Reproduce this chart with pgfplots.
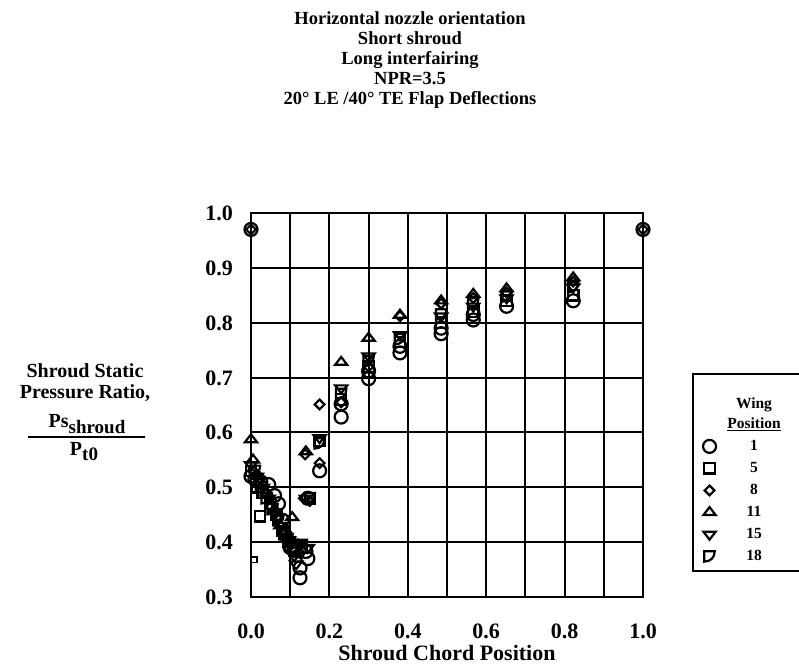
\documentclass[border=0pt]{standalone}
\usepackage{pgfplots}
\pgfplotsset{compat=1.18}
\usepackage{fontspec}
\setmainfont{Liberation Serif}
\usetikzlibrary{plotmarks}

\pgfdeclareplotmark{dshape}{%
  \pgfpathmoveto{\pgfqpoint{-\pgfplotmarksize}{\pgfplotmarksize}}%
  \pgfpathlineto{\pgfqpoint{\pgfplotmarksize}{\pgfplotmarksize}}%
  \pgfpathcurveto{\pgfqpoint{\pgfplotmarksize}{-0.2\pgfplotmarksize}}{\pgfqpoint{0.2\pgfplotmarksize}{-\pgfplotmarksize}}{\pgfqpoint{-\pgfplotmarksize}{-\pgfplotmarksize}}%
  \pgfpathclose
  \pgfusepathqstroke
}

\pgfplotstableread{
x y
0.0 0.970
1.0 0.970
0.0 0.520
0.010 0.515
0.025 0.510
0.045 0.505
0.060 0.485
0.070 0.470
0.080 0.440
0.090 0.410
0.100 0.390
0.110 0.385
0.125 0.335
0.125 0.353
0.145 0.370
0.140 0.383
0.145 0.480
0.175 0.530
0.230 0.628
0.230 0.652
0.300 0.698
0.300 0.712
0.380 0.745
0.380 0.757
0.485 0.780
0.485 0.790
0.567 0.805
0.567 0.815
0.652 0.830
0.822 0.840
}\wingA

\pgfplotstableread{
x y
0.023 0.447
0.000 0.530
0.015 0.500
0.030 0.490
0.050 0.470
0.065 0.450
0.080 0.420
0.095 0.400
0.110 0.385
0.130 0.390
0.150 0.480
0.175 0.585
0.230 0.660
0.300 0.720
0.380 0.765
0.485 0.800
0.567 0.820
0.652 0.840
0.822 0.850
}\wingB

\pgfplotstableread{
x y
0.0 0.970
1.0 0.970
0.005 0.530
0.020 0.510
0.035 0.490
0.050 0.465
0.065 0.445
0.080 0.420
0.095 0.390
0.110 0.375
0.125 0.380
0.135 0.480
0.150 0.475
0.138 0.560
0.175 0.651
0.175 0.544
0.230 0.655
0.300 0.720
0.380 0.812
0.485 0.835
0.567 0.845
0.652 0.855
0.822 0.875
}\wingC

\pgfplotstableread{
x y
0.000 0.587
0.005 0.550
0.020 0.520
0.040 0.490
0.060 0.460
0.075 0.430
0.090 0.410
0.105 0.445
0.120 0.395
0.140 0.565
0.230 0.728
0.300 0.772
0.380 0.814
0.485 0.840
0.567 0.852
0.652 0.862
0.822 0.882
}\wingD

\pgfplotstableread{
x y
0.000 0.541
0.015 0.520
0.030 0.500
0.045 0.480
0.060 0.455
0.075 0.430
0.090 0.410
0.100 0.395
0.115 0.360
0.145 0.390
0.140 0.480
0.175 0.590
0.230 0.681
0.300 0.739
0.380 0.778
0.485 0.812
0.567 0.830
0.652 0.845
0.822 0.865
}\wingE

\pgfplotstableread{
x y
0.010 0.530
0.025 0.500
0.040 0.480
0.055 0.460
0.070 0.440
0.085 0.415
0.100 0.400
0.115 0.390
0.130 0.395
0.150 0.480
0.175 0.580
0.230 0.670
0.300 0.730
0.380 0.770
0.485 0.815
0.567 0.835
0.652 0.848
0.822 0.865
}\wingF

\begin{document}
\bfseries
\begin{tikzpicture}
\useasboundingbox (0pt,0pt) rectangle (799pt,665pt);
\begin{axis}[
  at={(251pt,68pt)}, anchor=south west,
  width=392pt, height=384pt, scale only axis,
  xmin=0, xmax=1, ymin=0.3, ymax=1.0,
  xtick={0,0.2,0.4,0.6,0.8,1.0},
  minor xtick={0.1,0.3,0.5,0.7,0.9},
  ytick={0.3,0.4,0.5,0.6,0.7,0.8,0.9,1.0},
  grid=both,
  major grid style={black, line width=2pt},
  minor grid style={black, line width=2pt},
  axis line style={line width=2.2pt},
  major tick length=0pt, minor tick length=0pt,
  clip=false,
  xticklabel={\pgfmathprintnumber[fixed,fixed zerofill,precision=1,assume math mode=true]{\tick}},
  yticklabel={\pgfmathprintnumber[fixed,fixed zerofill,precision=1,assume math mode=true]{\tick}},
  xticklabel style={font=\fontsize{22}{22}\selectfont\bfseries, anchor=center, inner sep=0pt, text height=15pt, text depth=0pt, yshift=-34pt},
  yticklabel style={font=\fontsize{22}{22}\selectfont\bfseries, anchor=east, inner sep=0pt, text height=15pt, text depth=0pt, xshift=-18pt},
  xlabel={Shroud Chord Position},
  xlabel style={font=\fontsize{22}{22}\selectfont\bfseries, at={(axis description cs:0.5,-0.146)}, anchor=center, inner sep=0pt},
  every axis plot/.append style={only marks, black, line width=2.2pt, mark size=6.5pt},
  legend style={at={(axis description cs:1.125,0.583)}, anchor=north west, draw=black, line width=2pt,
    font=\fontsize{15.5}{15.5}\selectfont\bfseries, row sep=1.5pt, inner xsep=8pt, inner ysep=4pt,
    nodes={text height=11.5pt, text depth=3pt, inner sep=3pt}},
  legend cell align={center},
]
\addlegendimage{empty legend}\addlegendentry[text height=27pt]{\makebox[70pt][c]{Wing}}
\addlegendimage{empty legend}\addlegendentry[text height=10pt]{\makebox[70pt][c]{\underline{Position}}}
\addplot[mark=o, mark size=6.5pt] table {\wingA};
\addlegendentry{\makebox[70pt][c]{1}}
\addplot[mark=square, mark size=5.2pt] table {\wingB};
\addlegendentry{\makebox[70pt][c]{5}}
\addplot[mark=diamond, mark size=6.5pt, mark options={yscale=0.75}] table {\wingC};
\addlegendentry{\makebox[70pt][c]{8}}
\addplot[mark=triangle, mark size=7pt, mark options={yscale=0.75}] table {\wingD};
\addlegendentry{\makebox[70pt][c]{11}}
\addplot[mark=triangle, mark size=7pt, mark options={rotate=180, yscale=0.75}] table {\wingE};
\addlegendentry{\makebox[70pt][c]{15}}
\addplot[mark=dshape, mark size=5.2pt] table {\wingF};
\addlegendentry{\makebox[70pt][c]{18}}
\addplot[mark=square, mark size=2.8pt, line width=1.3pt, forget plot] coordinates {(0.008,0.368)};
\end{axis}
% titles
\begin{scope}[every node/.style={font=\fontsize{18.5}{18.5}\selectfont\bfseries, anchor=base, inner sep=0pt}]
\node at (410pt,640pt) {Horizontal nozzle orientation};
\node at (410pt,620pt) {Short shroud};
\node at (410pt,600pt) {Long interfairing};
\node at (410pt,580pt) {NPR=3.5};
\node at (410pt,560pt) {20° LE /40° TE Flap Deflections};
\end{scope}
% y label
\begin{scope}[every node/.style={font=\fontsize{20}{20}\selectfont\bfseries, anchor=base, inner sep=0pt}]
\node at (85pt,288pt) {Shroud Static};
\node at (85pt,267pt) {Pressure Ratio,};
\node at (87pt,238pt) {Ps\raisebox{-6pt}{\fontsize{19}{19}\selectfont shroud}};
\node at (84pt,210pt) {P\raisebox{-5pt}{\fontsize{19}{19}\selectfont t0}};
\end{scope}
\draw[line width=2pt] (28pt,228pt) -- (145pt,228pt);
\end{tikzpicture}
\end{document}
